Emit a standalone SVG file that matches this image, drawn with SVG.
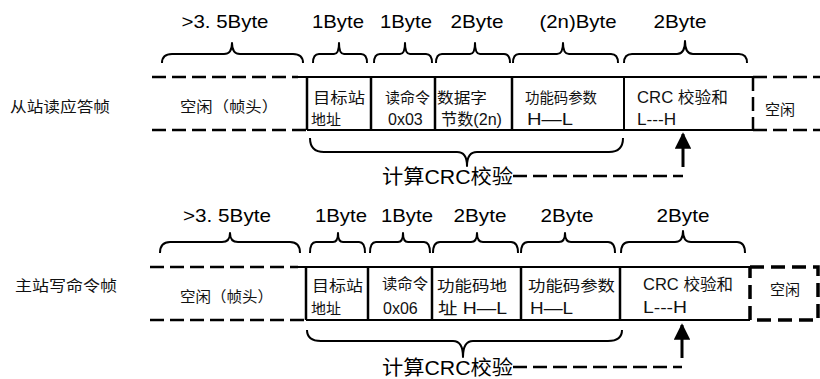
<svg xmlns="http://www.w3.org/2000/svg" width="820" height="379" viewBox="0 0 820 379">
<style>
.bg{fill:#fff}
.sol{stroke:#000;stroke-width:2;fill:none}
.div{stroke:#000;stroke-width:2.5;fill:none}
.dsh{stroke:#000;stroke-width:2.5;fill:none;stroke-dasharray:14 6}
.dsh2{stroke:#000;stroke-width:3.5;fill:none;stroke-dasharray:14 7}
.brace{stroke:#000;stroke-width:2;fill:none;stroke-linejoin:round}
.lbl{font-family:"Liberation Sans",Arial,sans-serif;font-size:19px;fill:#000}
.cj{font-family:"Noto Sans CJK SC","Liberation Sans",sans-serif;font-size:15px;fill:#111}
.mx{font-family:"Liberation Sans","Noto Sans CJK SC",sans-serif;font-size:16px;fill:#111}
.calc{font-family:"Liberation Sans","Noto Sans CJK SC",sans-serif;font-size:20px;fill:#000}
</style>
<defs>
<marker id="ah" viewBox="0 0 10 10" refX="9" refY="5" markerWidth="6" markerHeight="5.5" orient="auto" markerUnits="strokeWidth">
<path d="M0,0 L10,5 L0,10 Z" fill="#000"/>
</marker>
</defs>
<rect class="bg" x="0" y="0" width="820" height="379"/>

<!-- ===== Top frame: 从站读应答帧 ===== -->
<g id="top-title"><text class="cj" x="10" y="112" font-size="16" textLength="100" lengthAdjust="spacingAndGlyphs">从站读应答帧</text></g>
<g id="top-idle-head">
<path class="dsh" d="M152,77 H298 M152,130 H307"/>
<text class="cj" x="180" y="112" font-size="16" textLength="98" lengthAdjust="spacingAndGlyphs">空闲（帧头）</text>
</g>
<g id="top-addr">
<path class="sol" d="M298,77 H371 M307,130 H371"/>
<path class="div" d="M307,77 V130"/>
<text class="cj" x="313" y="103" textLength="52" lengthAdjust="spacingAndGlyphs">目标站</text>
<text class="cj" x="311" y="125" font-size="16">地址</text>
</g>
<g id="top-cmd">
<path class="sol" d="M371,77 H435 M371,130 H435"/>
<path class="div" d="M371,77 V130"/>
<text class="cj" x="385" y="103">读命令</text>
<text class="mx" x="388" y="125">0x03</text>
</g>
<g id="top-count">
<path class="sol" d="M435,77 H512 M435,130 H512"/>
<path class="div" d="M435,77 V130"/>
<text class="cj" x="437" y="103" textLength="50" lengthAdjust="spacingAndGlyphs">数据字</text>
<text class="mx" x="441" y="125" font-size="15" textLength="61" lengthAdjust="spacingAndGlyphs">节数(2n)</text>
</g>
<g id="top-param">
<path class="sol" d="M512,77 H624 M512,130 H624"/>
<path class="div" d="M512,77 V130"/>
<text class="cj" x="525" y="103" textLength="72" lengthAdjust="spacingAndGlyphs">功能码参数</text>
<text class="mx" x="527" y="125" textLength="46" lengthAdjust="spacingAndGlyphs">H—L</text>
</g>
<g id="top-crc">
<path class="sol" d="M624,77 H753 M624,130 H753"/>
<path class="sol" d="M624,77 V130"/>
<text class="mx" x="637" y="103" textLength="91" lengthAdjust="spacingAndGlyphs">CRC 校验和</text>
<text class="mx" x="637" y="125" textLength="39" lengthAdjust="spacingAndGlyphs">L---H</text>
</g>
<g id="top-idle-tail">
<path class="dsh" d="M753,77 H820 M753,130 H820 M753,77 V130"/>
<text class="cj" x="765" y="115" font-size="16">空闲</text>
</g>
<g id="top-bytes">
<text class="lbl" x="225" y="28" text-anchor="middle" textLength="87" lengthAdjust="spacingAndGlyphs">&gt;3. 5Byte</text>
<text class="lbl" x="338" y="28" text-anchor="middle" textLength="52" lengthAdjust="spacingAndGlyphs">1Byte</text>
<text class="lbl" x="406" y="28" text-anchor="middle" textLength="52" lengthAdjust="spacingAndGlyphs">1Byte</text>
<text class="lbl" x="477" y="28" text-anchor="middle" textLength="53" lengthAdjust="spacingAndGlyphs">2Byte</text>
<text class="lbl" x="578" y="28" text-anchor="middle" textLength="77" lengthAdjust="spacingAndGlyphs">(2n)Byte</text>
<text class="lbl" x="680" y="28" text-anchor="middle" textLength="53" lengthAdjust="spacingAndGlyphs">2Byte</text>
</g>
<g id="top-calc"><text class="calc" x="382" y="184" textLength="131" lengthAdjust="spacingAndGlyphs">计算CRC校验</text></g>

<!-- ===== Bottom frame: 主站写命令帧 ===== -->
<g id="bot-title"><text class="cj" x="15" y="291" font-size="16" textLength="102" lengthAdjust="spacingAndGlyphs">主站写命令帧</text></g>
<g id="bot-idle-head">
<path class="dsh" d="M150,267 H298 M150,320 H306"/>
<text class="cj" x="180" y="302" font-size="16" textLength="93" lengthAdjust="spacingAndGlyphs">空闲（帧头）</text>
</g>
<g id="bot-addr">
<path class="sol" d="M298,267 H368 M306,320 H368"/>
<path class="div" d="M306,267 V320"/>
<text class="cj" x="312" y="291" textLength="51" lengthAdjust="spacingAndGlyphs">目标站</text>
<text class="cj" x="311" y="314" font-size="16">地址</text>
</g>
<g id="bot-cmd">
<path class="sol" d="M368,267 H432 M368,320 H432"/>
<path class="div" d="M368,267 V320"/>
<text class="cj" x="382" y="289" textLength="46" lengthAdjust="spacingAndGlyphs">读命令</text>
<text class="mx" x="383" y="314">0x06</text>
</g>
<g id="bot-addr2">
<path class="sol" d="M432,267 H521 M432,320 H521"/>
<path class="div" d="M432,267 V320"/>
<text class="cj" x="437" y="291" textLength="70" lengthAdjust="spacingAndGlyphs">功能码地</text>
<text class="mx" x="438" y="314" textLength="69" lengthAdjust="spacingAndGlyphs">址 H—L</text>
</g>
<g id="bot-param">
<path class="sol" d="M521,267 H620 M521,320 H620"/>
<path class="div" d="M521,267 V320"/>
<text class="cj" x="528" y="291" textLength="87" lengthAdjust="spacingAndGlyphs">功能码参数</text>
<text class="mx" x="530" y="314" textLength="43" lengthAdjust="spacingAndGlyphs">H—L</text>
</g>
<g id="bot-crc">
<path class="sol" d="M620,267 H750 M620,320 H750"/>
<path class="div" d="M620,267 V320"/>
<text class="mx" x="643" y="290" textLength="90" lengthAdjust="spacingAndGlyphs">CRC 校验和</text>
<text class="mx" x="643" y="313" textLength="44" lengthAdjust="spacingAndGlyphs">L---H</text>
</g>
<g id="bot-idle-tail">
<path class="dsh2" d="M750,267 H818 V320 H750 V267"/>
<text class="cj" x="770" y="295" font-size="16">空闲</text>
</g>
<g id="bot-bytes">
<text class="lbl" x="227" y="222" text-anchor="middle" textLength="88" lengthAdjust="spacingAndGlyphs">&gt;3. 5Byte</text>
<text class="lbl" x="341" y="222" text-anchor="middle" textLength="52" lengthAdjust="spacingAndGlyphs">1Byte</text>
<text class="lbl" x="407" y="222" text-anchor="middle" textLength="52" lengthAdjust="spacingAndGlyphs">1Byte</text>
<text class="lbl" x="480" y="222" text-anchor="middle" textLength="53" lengthAdjust="spacingAndGlyphs">2Byte</text>
<text class="lbl" x="567" y="222" text-anchor="middle" textLength="53" lengthAdjust="spacingAndGlyphs">2Byte</text>
<text class="lbl" x="683" y="222" text-anchor="middle" textLength="53" lengthAdjust="spacingAndGlyphs">2Byte</text>
</g>
<g id="bot-calc"><text class="calc" x="382" y="375" textLength="131" lengthAdjust="spacingAndGlyphs">计算CRC校验</text></g>

<!-- ===== Connectors ===== -->
<g id="connectors">
<path class="brace" d="M162,63 Q162,54 172,54 H224 Q232,54 232,43 Q232,54 240,54 H293 Q303,54 303,63"/>
<path class="brace" d="M313,63 Q313,54 319,54 H334 Q339,54 339,43 Q339,54 344,54 H361 Q367,54 367,63"/>
<path class="brace" d="M374,63 Q374,54 380,54 H400 Q405,54 405,43 Q405,54 410,54 H426 Q432,54 432,63"/>
<path class="brace" d="M436,63 Q436,54 442,54 H470 Q475,54 475,43 Q475,54 480,54 H504 Q510,54 510,63"/>
<path class="brace" d="M513,63 Q513,54 519,54 H557 Q563,54 563,43 Q563,54 569,54 H611 Q618,54 618,63"/>
<path class="brace" d="M624,63 Q624,54 632,54 H677 Q685,54 685,41 Q685,54 693,54 H739 Q747,54 747,63"/>
<path class="brace" d="M310,138 Q310,152 324,152 H457 Q467,152 467,166 Q467,152 477,152 H609 Q623,152 623,138"/>
<path class="dsh" d="M513,176 H683" stroke-width="2"/>
<path d="M683,167 V134" stroke="#000" stroke-width="3" marker-end="url(#ah)"/>

<path class="brace" d="M160,253 Q160,242 170,242 H222 Q230,242 230,233 Q230,242 238,242 H290 Q300,242 300,253"/>
<path class="brace" d="M310,253 Q310,242 316,242 H333 Q338,242 338,233 Q338,242 343,242 H359 Q365,242 365,253"/>
<path class="brace" d="M370,253 Q370,242 376,242 H398 Q403,242 403,233 Q403,242 408,242 H424 Q430,242 430,253"/>
<path class="brace" d="M433,253 Q433,242 440,242 H471 Q477,242 477,233 Q477,242 483,242 H511 Q518,242 518,253"/>
<path class="brace" d="M521,253 Q521,242 528,242 H559 Q565,242 565,233 Q565,242 571,242 H608 Q615,242 615,253"/>
<path class="brace" d="M621,253 Q621,242 629,242 H675 Q683,242 683,231 Q683,242 691,242 H737 Q745,242 745,253"/>
<path class="brace" d="M307,330 Q307,341 321,341 H453 Q463,341 463,357 Q463,341 473,341 H608 Q622,341 622,330"/>
<path class="dsh" d="M513,367 H682" stroke-width="2"/>
<path d="M682,358 V325" stroke="#000" stroke-width="3" marker-end="url(#ah)"/>
</g>
</svg>
